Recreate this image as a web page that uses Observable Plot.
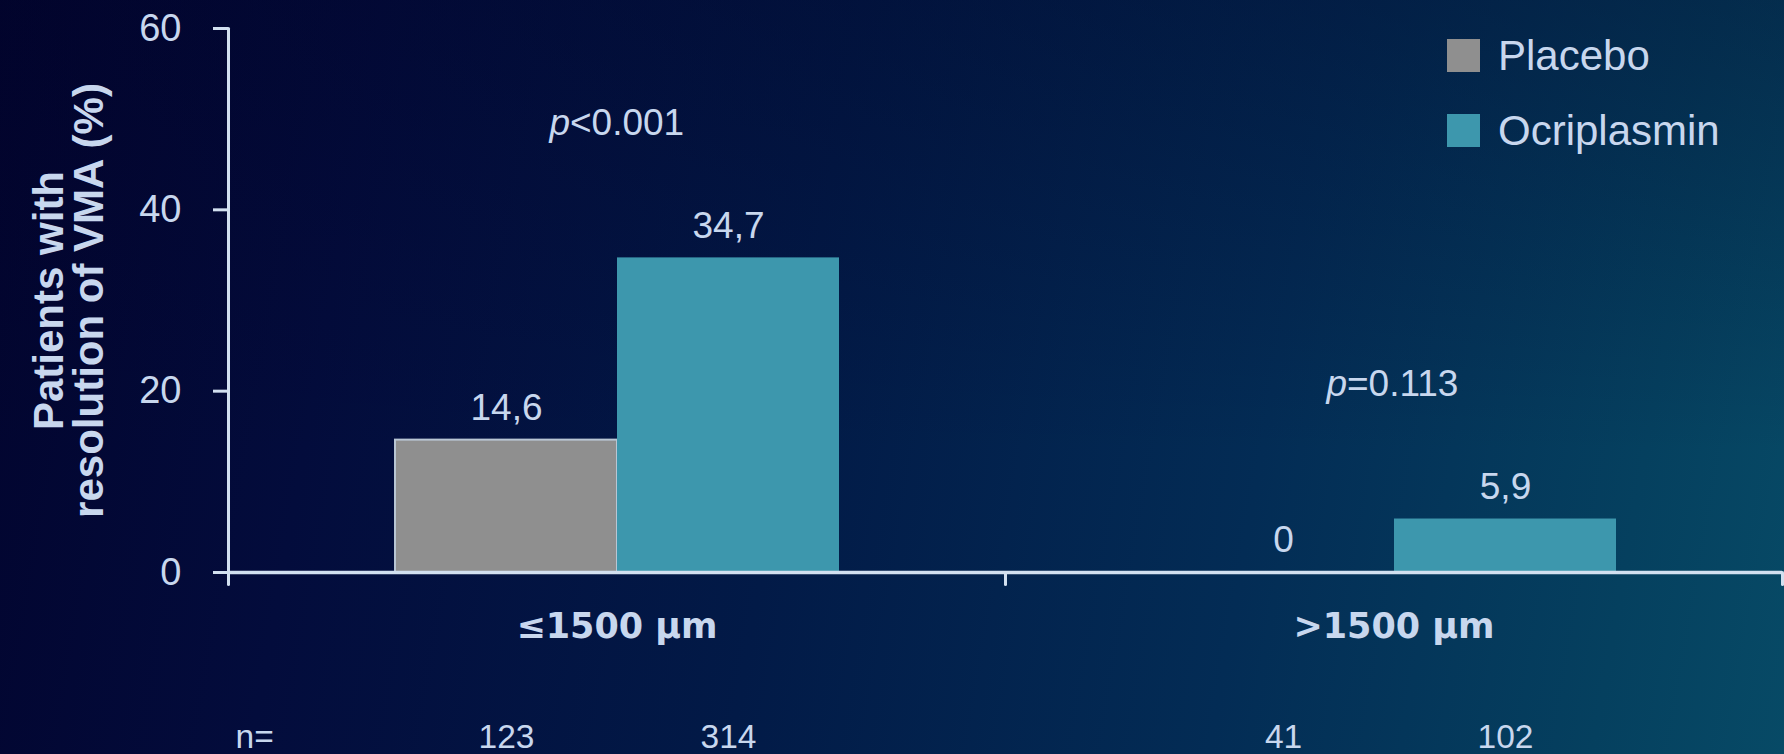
<!DOCTYPE html>
<html>
<head>
<meta charset="utf-8">
<script src="https://cdn.jsdelivr.net/npm/d3@7"></script>
<script src="https://cdn.jsdelivr.net/npm/@observablehq/plot@0.6"></script>
<style>
  html, body { margin: 0; padding: 0; }
  body {
    width: 1784px; height: 754px; overflow: hidden; position: relative;
    background:
      linear-gradient(180deg, rgba(1, 3, 40, 0.35) 0%, rgba(1, 3, 40, 0) 60%),
      linear-gradient(100deg, #02042e 0%, #030c3c 20%, #021a47 45%, #032c55 70%, #05405f 90%, #074a66 100%);
    font-family: "Liberation Sans", Arial, sans-serif;
  }
  #chart { position: absolute; left: 0; top: 0; }
  .legend { position: absolute; left: 1447px; top: 39px; color: #c8d7ee; font-size: 42px; }
  .legend .item { display: flex; align-items: center; height: 33px; margin-bottom: 42px; }
  .legend .sw { width: 33px; height: 33px; margin-right: 18px; }
</style>
</head>
<body>
<div id="chart"></div>
<div class="legend" id="legend"></div>
<script>
// Subgroups by baseline size, treatment arms and their results
const groups = ["≤1500 µm", ">1500 µm"];
const arms = ["Placebo", "Ocriplasmin"];
const placeboPct = [14.6, 0];
const ocriplasminPct = [34.7, 5.9];
const placeboN = [123, 41];
const ocriplasminN = [314, 102];
const pValues = ["<0.001", "=0.113"];
const yTicks = [0, 20, 40, 60];
const yTitle = "Patients with\nresolution of VMA (%)";

const armColors = ["#8f8f8f", "#3d97ad"];
const textColor = "#c8d7ee";
const axisColor = "#d2e0f0";

const W = 1784, H = 754;
const margin = {top: 28, right: 2, bottom: 182, left: 228};
const innerH = H - margin.top - margin.bottom;

const rows = groups.flatMap((g, i) => [
  {group: g, arm: arms[0], value: placeboPct[i], n: placeboN[i]},
  {group: g, arm: arms[1], value: ocriplasminPct[i], n: ocriplasminN[i]}
]);
const pRows = groups.map((g, i) => ({group: g, p: pValues[i], top: Math.max(placeboPct[i], ocriplasminPct[i])}));

const fmt = v => Number.isInteger(v) ? String(v) : String(v).replace(".", ",");
const lineShape = {draw(ctx, l) { ctx.moveTo(0, 0); ctx.lineTo(0, -l); }};

const chart = Plot.plot({
  width: W,
  height: H,
  marginTop: margin.top,
  marginRight: margin.right,
  marginBottom: margin.bottom,
  marginLeft: margin.left,
  style: {background: "transparent", color: textColor, fontFamily: '"Liberation Sans", Arial, sans-serif', fontSize: "34px"},
  fx: {domain: groups, padding: 0, label: null},
  x: {domain: arms, paddingInner: 0, paddingOuter: 0.75, axis: null},
  y: {domain: [0, 60]},
  color: {domain: arms, range: armColors},
  marks: [
    Plot.barY(rows, {filter: d => d.arm === arms[0], fx: "group", x: "arm", y: "value", fill: "arm", stroke: "#b9c6d4", strokeWidth: 2}),
    Plot.barY(rows, {filter: d => d.arm === arms[1], fx: "group", x: "arm", y: "value", fill: "arm"}),
    Plot.ruleY([0], {stroke: axisColor, strokeWidth: 3.5}),
    // vertical axis line, reaching just below the baseline
    Plot.vector([groups[0]], {fx: d => d, frameAnchor: "bottom-left", dy: 12, length: innerH + 12, rotate: 0, anchor: "start", shape: lineShape, r: 0, stroke: axisColor, strokeWidth: 3}),
    // downward ticks at the right edge of each subgroup
    Plot.vector(groups, {fx: d => d, frameAnchor: "bottom-right", length: 12, rotate: 180, anchor: "start", shape: lineShape, r: 0, stroke: axisColor, strokeWidth: 3}),
    Plot.axisY({ticks: yTicks, tickSize: 15, tickPadding: 32, fontSize: 38, stroke: axisColor, strokeWidth: 3, fill: textColor, label: null}),
    Plot.axisFx({anchor: "bottom", tickSize: 0, tickPadding: 41, fontSize: 35, fontWeight: "bold", fontFamily: "DejaVu Sans", fill: textColor, label: null}),
    // value labels above bars
    Plot.text(rows, {fx: "group", x: "arm", y: "value", text: d => fmt(d.value), dy: -32, lineAnchor: "middle", fontSize: 37, fill: textColor}),
    // p-values: italic "p" followed by the comparison
    Plot.text(pRows, {fx: "group", y: "top", text: () => "p", textAnchor: "end", dx: -47, dy: -135, lineAnchor: "middle", fontSize: 37, fontStyle: "italic", fill: textColor}),
    Plot.text(pRows, {fx: "group", y: "top", text: "p", textAnchor: "start", dx: -47, dy: -135, lineAnchor: "middle", fontSize: 37, fill: textColor}),
    // sample sizes row
    Plot.text(rows, {fx: "group", x: "arm", frameAnchor: "bottom", dy: 165, text: d => String(d.n), lineAnchor: "middle", fontSize: 33.5, fill: textColor}),
    Plot.text([groups[0]], {fx: d => d, frameAnchor: "bottom-left", dx: 7, dy: 165, text: () => "n=", lineAnchor: "middle", fontSize: 33.5, fill: textColor}),
    // y axis title
    Plot.text([groups[0]], {fx: d => d, frameAnchor: "left", dx: -158, rotate: -90, text: () => yTitle, lineHeight: 0.95, lineAnchor: "middle", textAnchor: "middle", fontSize: 42, fontWeight: "bold", fill: textColor})
  ]
});
document.getElementById("chart").appendChild(chart);

// legend
const legend = document.getElementById("legend");
arms.forEach((a, i) => {
  const item = document.createElement("div");
  item.className = "item";
  const sw = document.createElement("div");
  sw.className = "sw";
  sw.style.background = armColors[i];
  const label = document.createElement("span");
  label.textContent = a;
  item.appendChild(sw);
  item.appendChild(label);
  legend.appendChild(item);
});
</script>
</body>
</html>
